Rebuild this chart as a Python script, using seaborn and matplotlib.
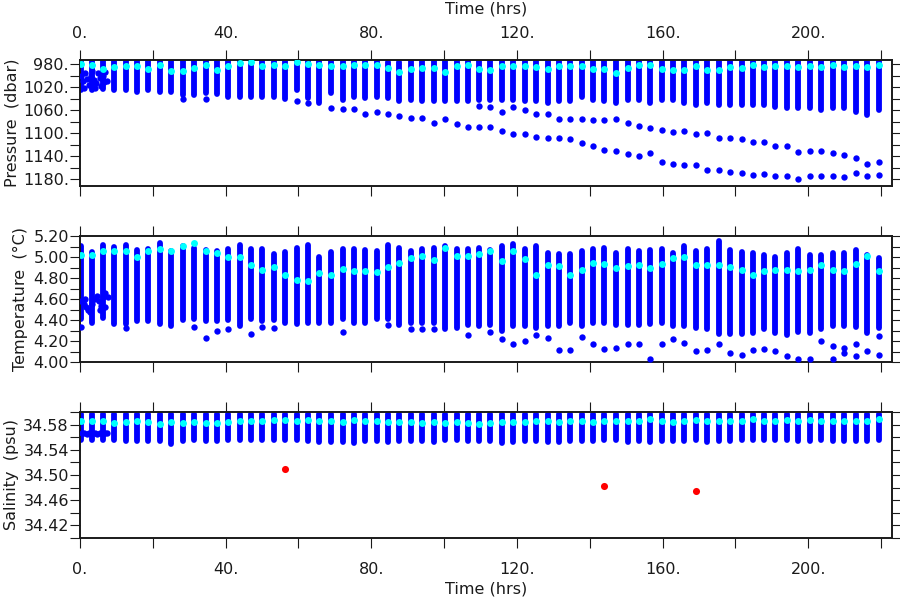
import numpy as np
import pandas as pd
import matplotlib
matplotlib.use("Agg")
import matplotlib.pyplot as plt
import seaborn as sns
from matplotlib.ticker import MultipleLocator, FixedLocator, FixedFormatter

nan = np.nan

# ---------------- data ----------------
TIME = [0.2, 3.2, 6.4, 9.4, 12.5, 15.7, 18.8, 22.0, 25.1, 28.2, 31.4, 34.5, 37.6, 40.7, 43.9, 47.0, 50.1, 53.2, 56.4, 59.5,
        62.7, 65.7, 69.0, 72.1, 75.2, 78.4, 81.5, 84.6, 87.7, 90.9, 94.0, 97.2, 100.3, 103.4, 106.5, 109.6, 112.7, 115.9,
        119.0, 122.2, 125.3, 128.4, 131.5, 134.6, 137.8, 140.9,
        144.0, 147.2, 150.4, 153.5, 156.6, 159.7, 162.8, 166.0, 169.1, 172.3, 175.4, 178.6, 181.7, 184.8, 187.9, 191.0,
        194.2, 197.3, 200.5, 203.6, 206.7, 209.9, 213.0, 216.1, 219.3]

# Pressure (dbar)
P_TOP = [975, 975, 975, 975, 975, 975, 975, 975, 975, 975, 975, 975, 975, 975, 975, 975, 975, 975, 975, 975,
         975, 975, 975, 975, 975, 975, 975, 977, 976, 975, 975, 975, 975, 975, 975, 975, 975, 975, 975, 975, 975,
         975, 975, 975, 975, 975,
         975, 975, 975, 975, 975, 975, 975, 975, 975, 975, 975, 975, 975, 975, 975, 975, 975, 975, 975, 975, 975,
         975, 975, 975, 975]
P_BOT = [1025, 1025, 1024, 1025, 1025, 1028, 1025, 1028, 1028, 1034, 1034, 1031, 1032, 1037, 1038, 1037, 1038, 1037, 1041, 1025,
         1039, 1048, 1031, 1043, 1037, 1039, 1037, 1039, 1044, 1042, 1044, 1044, 1045, 1045, 1045, 1042, 1042, 1042, 1042,
         1045, 1045, 1048, 1045, 1045, 1037, 1042,
         1045, 1047, 1042, 1042, 1048, 1043, 1042, 1048, 1051, 1048, 1051, 1051, 1051, 1051, 1051, 1054, 1057, 1057, 1057,
         1060, 1057, 1057, 1064, 1069, 1060]
P_EXTRA_B = [nan, nan, nan, nan, nan, nan, nan, nan, nan, 1040, nan, 1040, nan, nan, nan, nan, nan, nan, nan, 1044,
             nan, nan, nan, nan, nan, nan, nan, nan, nan, nan, nan, nan, nan, nan, nan, 1053, 1055, 1063, 1054, 1060,
             1066, 1067, 1076, 1076, 1076, 1077,
             1077, 1076, 1083, 1088, 1092, 1095, 1098, 1097, 1101, 1100, 1108, 1108, 1111, 1116, 1116, 1122, 1122, 1133,
             1131, 1131, 1134, 1138, 1143, 1153, 1150]
P_EXTRA_A = [nan, nan, nan, nan, nan, nan, nan, nan, nan, nan, nan, nan, nan, nan, nan, nan, nan, nan, nan, nan,
             1048, nan, 1057, 1058, 1058, 1067, 1063, 1067, 1070, 1073, 1074, 1082, 1076, 1085, 1090, 1090, 1090, 1096,
             1102, 1102, 1106, 1108, 1108, 1111, 1118, 1122,
             1129, 1131, 1137, 1140, 1134, 1151, 1153, 1155, 1156, 1165, 1164, 1168, 1169, 1173, 1172, 1175, 1174, 1179,
             1174, 1175, 1174, 1176, 1170, 1175, 1173]
P_CYAN = [980, 981, 988, 985, 984, 983, 989, 982, 992, 992, 987, 981, 990, 984, 979, 977, 984, 981, 983, 977,
          980, 982, 983, 984, 981, 981, 982, 987, 993, 989, 987, 987, 993, 984, 981, 988, 990, 984, 983, 984, 986,
          988, 984, 983, 983, 988,
          988, 996, 987, 981, 982, 989, 990, 990, 984, 990, 991, 986, 987, 981, 985, 984, 983, 985, 984, 985, 981,
          985, 984, 985, 981]
P_CLUSTER_T = [0.4, 0.9, 1.4, 1.9, 2.4, 2.9, 3.4, 3.9, 4.4, 4.9, 5.4, 5.9, 6.4, 6.9, 7.4, 1.2, 4.2, 6.6]
P_CLUSTER_V = [1000, 1010, 996, 1006, 1016, 1001, 992, 1008, 1013, 996, 1004, 1018, 1000, 994, 1009, 1021, 1022, 1012]

# Temperature (deg C)
T_TOP = [5.102, 5.048, 5.111, 5.096, 5.111, 5.070, 5.080, 5.134, 5.054, 5.102, 5.086, 5.070, 5.061, 5.077, 5.111, 5.077,
         5.077, 5.029, 5.045, 5.086,
         5.118, 4.997, 5.048, 5.077, 5.080, 5.064, 5.054, 5.111, 5.086, 5.054, 5.080, 5.086, 5.102, 5.077, 5.077, 5.086,
         5.070, 5.108, 5.124, 5.080, 5.102, 5.039, 5.029, 5.032, 5.054, 5.077,
         5.086, 5.039, 5.077, 5.061, 5.070, 5.077, 5.039, 5.108, 5.054, 5.077, 5.149, 5.070, 5.048, 5.039, 5.016, 4.997,
         5.039, 5.077, 5.016, 5.023, 5.039, 5.039, 5.070, 5.020, 4.991]
T_BOT = [4.405, 4.374, 4.421, 4.364, 4.358, 4.390, 4.390, 4.358, 4.342, 4.396, 4.405, 4.390, 4.390, 4.396, 4.342, 4.405,
         4.390, 4.396, 4.374, 4.358,
         4.374, 4.367, 4.367, 4.405, 4.367, 4.367, 4.412, 4.405, 4.348, 4.374, 4.374, 4.374, 4.310, 4.326, 4.348, 4.342,
         4.348, 4.295, 4.342, 4.342, 4.326, 4.342, 4.342, 4.374, 4.342, 4.374,
         4.374, 4.348, 4.348, 4.348, 4.358, 4.374, 4.342, 4.342, 4.326, 4.310, 4.269, 4.269, 4.269, 4.279, 4.310, 4.279,
         4.253, 4.285, 4.279, 4.310, 4.342, 4.342, 4.336, 4.279, 4.326]
T_EXTRA_A = [4.336, nan, nan, nan, 4.326, nan, nan, nan, nan, nan, 4.333, 4.225, 4.295, 4.317, nan, 4.269, 4.333, 4.320,
             nan, nan,
             nan, nan, nan, 4.288, nan, nan, nan, 4.352, nan, 4.317, 4.317, 4.317, nan, nan, 4.253, nan, 4.285, 4.215,
             4.168, 4.196, 4.253, 4.228, 4.114, 4.114, 4.241, 4.174,
             4.120, 4.136, 4.168, 4.168, 4.032, 4.168, 4.222, 4.184, 4.105, 4.114, 4.174, 4.089, 4.067, 4.111, 4.120,
             4.105, 4.057, 4.025, 4.032, 4.200, 4.152, 4.136, 4.168, 4.105, 4.247]
T_EXTRA_B = [nan, nan, nan, nan, nan, nan, nan, nan, nan, nan, nan, nan, nan, nan, nan, nan, nan, nan, nan, nan,
             nan, nan, nan, nan, nan, nan, nan, nan, nan, nan, nan, nan, nan, nan, nan, nan, nan, nan, nan, nan,
             nan, nan, nan, nan, nan, nan,
             nan, nan, nan, nan, nan, nan, nan, nan, nan, nan, nan, nan, nan, nan, nan, nan, nan, nan, nan, nan,
             4.032, 4.089, 4.057, nan, 4.064]
T_CYAN = [5.016, 5.016, 5.054, 5.054, 5.054, 5.004, 5.061, 5.077, 5.054, 5.108, 5.134, 5.061, 5.035, 5.004, 5.004, 4.921,
          4.880, 4.902, 4.826, 4.779,
          4.769, 4.849, 4.826, 4.887, 4.871, 4.864, 4.855, 4.902, 4.944, 4.991, 5.013, 4.975, 5.086, 5.007, 5.007, 5.032,
          5.061, 4.959, 5.054, 4.982, 4.826, 4.921, 4.912, 4.826, 4.880, 4.944,
          4.934, 4.896, 4.912, 4.921, 4.896, 4.937, 4.991, 5.001, 4.921, 4.921, 4.921, 4.902, 4.880, 4.833, 4.864, 4.880,
          4.880, 4.864, 4.880, 4.921, 4.874, 4.864, 4.934, 5.007, 4.864]
T_CLUSTER_T = [0.3, 1.0, 1.6, 2.2, 2.8, 3.4, 4.0, 4.6, 5.2, 5.8, 6.4, 7.0, 7.6, 1.3, 5.5, 6.8]
T_CLUSTER_V = [4.58, 4.55, 4.52, 4.50, 4.48, 4.55, 4.60, 4.63, 4.58, 4.53, 4.62, 4.66, 4.62, 4.60, 4.50, 4.52]

# Salinity (psu)
S_TOP = [34.597, 34.597, 34.597, 34.597, 34.597, 34.597, 34.597, 34.597, 34.597, 34.597, 34.597, 34.597, 34.597,
         34.597, 34.597, 34.597, 34.597, 34.597, 34.597, 34.597,
         34.597, 34.597, 34.597, 34.597, 34.597, 34.597, 34.597, 34.597, 34.597, 34.597, 34.597, 34.597, 34.597,
         34.597, 34.597, 34.597, 34.597, 34.597, 34.597, 34.597, 34.597, 34.597, 34.597, 34.597, 34.597, 34.597,
         34.597, 34.597, 34.597, 34.597, 34.597, 34.597, 34.597, 34.597, 34.597, 34.597, 34.597, 34.597, 34.597,
         34.597, 34.597, 34.597, 34.597, 34.597, 34.597, 34.597, 34.597, 34.597, 34.597, 34.597, 34.597]
S_BOT = [34.555, 34.555, 34.555, 34.555, 34.554, 34.554, 34.554, 34.554, 34.549, 34.554, 34.555, 34.554, 34.554, 34.555,
         34.556, 34.555, 34.555, 34.556, 34.556, 34.556,
         34.554, 34.552, 34.552, 34.552, 34.551, 34.554, 34.554, 34.552, 34.554, 34.554, 34.554, 34.552, 34.555, 34.555,
         34.554, 34.554, 34.554, 34.551, 34.552, 34.554, 34.554, 34.552, 34.552, 34.554, 34.554, 34.554,
         34.555, 34.555, 34.552, 34.554, 34.552, 34.554, 34.554, 34.554, 34.555, 34.552, 34.554, 34.554, 34.555, 34.555,
         34.555, 34.555, 34.555, 34.554, 34.554, 34.555, 34.554, 34.554, 34.554, 34.554, 34.555]
S_CYAN = [34.5852, 34.5852, 34.5852, 34.5826, 34.5837, 34.5852, 34.5837, 34.5810, 34.5837, 34.5826, 34.5837, 34.5826,
          34.5821, 34.5837, 34.5852, 34.5852, 34.5852, 34.5873, 34.5873, 34.5863,
          34.5873, 34.5852, 34.5852, 34.5847, 34.5878, 34.5852, 34.5863, 34.5847, 34.5837, 34.5847, 34.5821, 34.5837,
          34.5821, 34.5847, 34.5821, 34.5810, 34.5821, 34.5837, 34.5837, 34.5837, 34.5863, 34.5852, 34.5847, 34.5863,
          34.5852, 34.5847,
          34.5852, 34.5852, 34.5852, 34.5863, 34.5889, 34.5852, 34.5837, 34.5852, 34.5873, 34.5863, 34.5852, 34.5863,
          34.5863, 34.5889, 34.5863, 34.5863, 34.5873, 34.5863, 34.5873, 34.5863, 34.5863, 34.5863, 34.5863, 34.5852,
          34.5889]
S_CLUSTER_T = [0.5, 1.2, 1.9, 2.6, 3.3, 4.0, 4.7, 5.4, 6.1, 6.8, 7.5]
S_CLUSTER_V = [34.566, 34.567, 34.565, 34.566, 34.567, 34.566, 34.565, 34.566, 34.567, 34.566, 34.566]
S_RED_T = [56.4, 144.0, 169.1]
S_RED_V = [34.510, 34.482, 34.475]

# ticks / labels
X_TICKS = [0, 40, 80, 120, 160, 200]
X_TICK_LABELS = ["0.", "40.", "80.", "120.", "160.", "200."]
P_TICKS = [980, 1020, 1060, 1100, 1140, 1180]
P_TICK_LABELS = ["980.", "1020.", "1060.", "1100.", "1140.", "1180."]
T_TICKS = [4.0, 4.2, 4.4, 4.6, 4.8, 5.0, 5.2]
T_TICK_LABELS = ["4.00", "4.20", "4.40", "4.60", "4.80", "5.00", "5.20"]
S_TICKS = [34.42, 34.46, 34.50, 34.54, 34.58]
S_TICK_LABELS = ["34.42", "34.46", "34.50", "34.54", "34.58"]

# ---------------- style ----------------
sns.set_style("ticks")
plt.rcParams['font.family'] = ['DejaVu Sans']
BLUE = "#0000ff"
CYAN = "#00ffff"
RED = "#ff0000"
INK = "#1a1a1a"

fig = plt.figure(figsize=(9, 6), dpi=100)
W, H = 900.0, 600.0
left, width = 80 / W, 812 / W
ax1 = fig.add_axes([left, 1 - 186 / H, width, 126 / H])
ax2 = fig.add_axes([left, 1 - 362 / H, width, 126 / H])
ax3 = fig.add_axes([left, 1 - 538 / H, width, 126 / H])


def draw(ax, top, bot, extras, cyan, ct, cv):
    lc = ax.vlines(TIME, top, bot, colors=BLUE, linewidth=4.2, zorder=2)
    lc.set_capstyle('round')
    for ex in extras:
        d = pd.DataFrame({"t": TIME, "v": ex}).dropna()
        sns.scatterplot(data=d, x="t", y="v", ax=ax, color=BLUE, s=21, linewidth=0,
                        legend=False, zorder=3)
    dc = pd.DataFrame({"t": ct, "v": cv})
    sns.scatterplot(data=dc, x="t", y="v", ax=ax, color=BLUE, s=21, linewidth=0,
                    legend=False, zorder=3)
    dy = pd.DataFrame({"t": TIME, "v": cyan})
    sns.scatterplot(data=dy, x="t", y="v", ax=ax, color=CYAN, s=25, linewidth=0,
                    legend=False, zorder=4)


draw(ax1, P_TOP, P_BOT, [P_EXTRA_B, P_EXTRA_A], P_CYAN, P_CLUSTER_T, P_CLUSTER_V)
draw(ax2, T_TOP, T_BOT, [T_EXTRA_A, T_EXTRA_B], T_CYAN, T_CLUSTER_T, T_CLUSTER_V)
draw(ax3, S_TOP, S_BOT, [], S_CYAN, S_CLUSTER_T, S_CLUSTER_V)
sns.scatterplot(x=S_RED_T, y=S_RED_V, ax=ax3, color=RED, s=26, linewidth=0, legend=False, zorder=4)

ax1.set_ylim(1192, 973)
ax2.set_ylim(4.0, 5.2)
ax3.set_ylim(34.40, 34.60)

ylocs = [(ax1, P_TICKS, P_TICK_LABELS, 20), (ax2, T_TICKS, T_TICK_LABELS, 0.1),
         (ax3, S_TICKS, S_TICK_LABELS, 0.02)]
for ax, tk, tl, mn in ylocs:
    ax.set_xlim(0, 223)
    ax.xaxis.set_major_locator(FixedLocator(X_TICKS))
    ax.xaxis.set_major_formatter(FixedFormatter(X_TICK_LABELS))
    ax.xaxis.set_minor_locator(MultipleLocator(20))
    ax.yaxis.set_major_locator(FixedLocator(tk))
    ax.yaxis.set_major_formatter(FixedFormatter(tl))
    ax.yaxis.set_minor_locator(MultipleLocator(mn))
    ax.tick_params(which='both', direction='out', length=7, width=0.8, color=INK,
                   top=True, right=True, labelsize=11.5, labelcolor=INK)
    ax.tick_params(axis='y', which='both', pad=1)
    ax.tick_params(labelbottom=False, labeltop=False)
    for sp in ax.spines.values():
        sp.set_visible(True)
        sp.set_linewidth(1.4)
        sp.set_color(INK)
    ax.set_xlabel("")
    ax.set_ylabel("")

ax1.tick_params(axis='x', labeltop=True, pad=7)
ax3.tick_params(axis='x', labelbottom=True, pad=10)

ax1.xaxis.set_label_position('top')
ax1.set_xlabel("Time (hrs)", fontsize=11.5, color=INK)
ax1.xaxis.set_label_coords(0.5, 1.37)
ax3.set_xlabel("Time (hrs)", fontsize=11.5, color=INK)
ax3.xaxis.set_label_coords(0.5, -0.345)
ax3.xaxis.label.set_verticalalignment('top')

ax1.set_ylabel("Pressure  (dbar)", fontsize=11.5, color=INK)
ax2.set_ylabel("Temperature  (\u00b0C)", fontsize=11.5, color=INK)
ax3.set_ylabel("Salinity  (psu)", fontsize=11.5, color=INK)
ax1.yaxis.set_label_coords(-0.075, 0.5)
ax2.yaxis.set_label_coords(-0.064, 0.5)
ax3.yaxis.set_label_coords(-0.075, 0.5)

fig.savefig("out.png", dpi=100)
